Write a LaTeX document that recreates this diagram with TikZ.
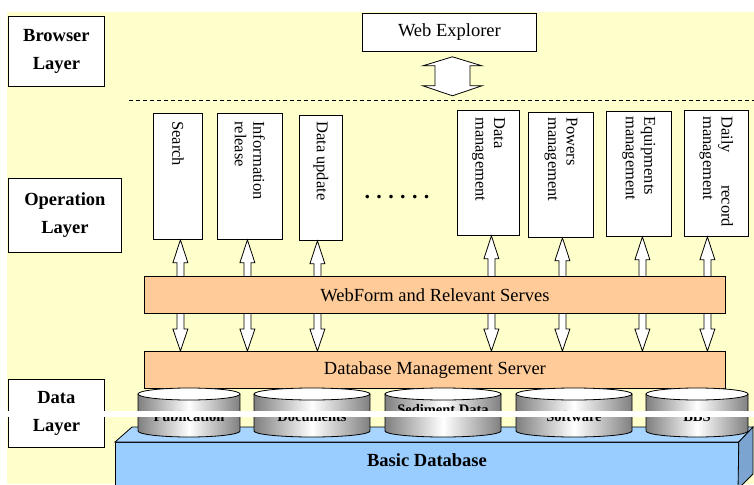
\documentclass[tikz,border=0pt]{standalone}
\usepackage{fontspec}
\setmainfont{Liberation Serif}
\usepackage{calc}
\usetikzlibrary{calc}
\definecolor{bgyellow}{HTML}{FFFFCC}
\definecolor{peach}{HTML}{FFCC99}
\definecolor{dbfront}{HTML}{99CCFF}
\definecolor{dbtop}{HTML}{A8D5FF}
\definecolor{dbside}{HTML}{7BA5D0}

% a database cylinder: left x, right x, label, label baseline
\newcommand{\dbcyl}[4]{%
  \pgfmathsetmacro{\cylrx}{(#2-#1)/2}%
  \pgfmathsetmacro{\cylcx}{(#2+#1)/2}%
  \shade[left color=gray, right color=gray, middle color=white]
    (#1,394) -- (#1,431) arc[start angle=180, end angle=0, x radius=\cylrx, y radius=6]
    -- (#2,394) arc[start angle=0, end angle=-180, x radius=\cylrx, y radius=6] -- cycle;
  \draw[outline] (#1,394) -- (#1,431)
    arc[start angle=180, end angle=0, x radius=\cylrx, y radius=6] -- (#2,394);
  \draw[outline, fill=white] (\cylcx,394) ellipse[x radius=\cylrx, y radius=6];
  \node[cyllabel, anchor=base] at (\cylcx,#4) {#3};
}

% a white block arrow with heads at both ends, from one node down to another
\newcommand{\linkarrow}[3]{%
  \draw[blk] let \p1=([xshift=#3pt]#1.south), \p2=([xshift=#3pt]#1.south |- #2.north) in
    (\x1,\y1) -- (\x1+7.5pt,\y1-23pt) -- (\x1+3.5pt,\y1-23pt) -- (\x1+3.5pt,\y2+22pt)
    -- (\x1+7.5pt,\y2+22pt) -- (\x1,\y2) -- (\x1-7.5pt,\y2+22pt) -- (\x1-3.5pt,\y2+22pt)
    -- (\x1-3.5pt,\y1-23pt) -- (\x1-7.5pt,\y1-23pt) -- cycle;
}

\begin{document}
\begin{tikzpicture}[x=1pt, y=-1pt,
  outline/.style={draw=black, line width=0.8pt},
  layerbox/.style={outline, fill=white, inner sep=0pt, anchor=north west, align=center,
    font=\bfseries\fontsize{18.5}{28}\selectfont},
  opbox/.style={outline, fill=white, inner sep=0pt, anchor=north west},
  optext/.style={rotate=-90, anchor=west, inner sep=0pt, align=left,
    font=\fontsize{16.5}{18.5}\selectfont},
  serverbox/.style={outline, fill=peach, inner sep=0pt, anchor=north west,
    minimum width=581pt, minimum height=37pt, font=\fontsize{18.5}{22}\selectfont},
  blk/.style={draw=black, line width=0.8pt, fill=white, line join=miter},
  cyllabel/.style={inner sep=0pt, font=\bfseries\fontsize{14.5}{16}\selectfont},
]
\useasboundingbox (0,0) rectangle (754,484);
\fill[white] (0,0) rectangle (754,484);
\fill[bgyellow] (7,12) rectangle (754,484);

% layer captions
\node[layerbox, minimum width=96pt, minimum height=70pt] (browser) at (8,16) {Browser\\Layer};
\node[layerbox, minimum width=113pt, minimum height=74pt] (operation) at (8,178) {Operation\\Layer};
\node[layerbox, minimum width=96pt, minimum height=68pt] (datalayer) at (8,379) {Data\\Layer};

% browser
\node[opbox, minimum width=174pt, minimum height=38pt, font=\fontsize{18.5}{22}\selectfont]
  (web) at (362,13) {Web Explorer};
\draw[blk] let \p1=([xshift=3pt]web.south) in
  (\x1,\y1-5pt) -- (\x1+29.5pt,\y1-14pt) -- (\x1+17.5pt,\y1-14pt) -- (\x1+17.5pt,\y1-34pt)
  -- (\x1+29.5pt,\y1-34pt) -- (\x1,\y1-44pt) -- (\x1-29.5pt,\y1-34pt) -- (\x1-17.5pt,\y1-34pt)
  -- (\x1-17.5pt,\y1-14pt) -- (\x1-29.5pt,\y1-14pt) -- cycle;
\draw[line width=0.8pt, dash pattern=on 4pt off 3pt] (129,100) -- (754,100);

% operation modules
\node[opbox, minimum width=49pt, minimum height=126pt] (search) at (153,113) {};
\node[opbox, minimum width=65pt, minimum height=126pt] (info) at (217,113) {};
\node[opbox, minimum width=43pt, minimum height=125pt] (dupd) at (299,115) {};
\node[opbox, minimum width=62pt, minimum height=125pt] (dmgmt) at (457,110) {};
\node[opbox, minimum width=65pt, minimum height=125pt] (pmgmt) at (528,112) {};
\node[opbox, minimum width=65pt, minimum height=125pt] (emgmt) at (606,111) {};
\node[opbox, minimum width=64pt, minimum height=126pt] (drec) at (684,110) {};

\node[optext] at ($(search.north)+(0,8)$) {Search};
\node[optext] at ($(info.north)+(0,8)$) {Information\\release};
\node[optext] at ($(dupd.north)+(0,6)$) {Data update};
\node[optext] at ($(dmgmt.north)+(0,7)$) {Data\\management};
\node[optext] at ($(pmgmt.north)+(0,5)$) {Powers\\management};
\node[optext] at ($(emgmt.north)+(0,5)$) {Equipments\\management};
\node[optext] at ($(drec.north)+(0,6)$) {\makebox[111pt][s]{Daily record}\\management};

\node[inner sep=0pt, anchor=base, font=\bfseries\fontsize{22}{24}\selectfont] (dots) at (397,198)
  {.\kern6.4pt.\kern6.4pt.\kern6.4pt.\kern6.4pt.\kern6.4pt.};

% servers
\node[serverbox] (dbms) at (144,351) {Database Management Server};
\linkarrow{search}{dbms}{2.5}
\linkarrow{info}{dbms}{-2.5}
\linkarrow{dupd}{dbms}{-3.5}
\linkarrow{dmgmt}{dbms}{3}
\linkarrow{pmgmt}{dbms}{1.5}
\linkarrow{emgmt}{dbms}{3.5}
\linkarrow{drec}{dbms}{-9}
\node[serverbox] (webform) at (144,276) {WebForm and Relevant Serves};

% basic database slab
\begin{scope}
\clip (0,0) rectangle (754,484);
\node[outline, fill=dbfront, inner sep=0pt, anchor=north west,
  minimum width=623pt, minimum height=50pt] (basic) at (115,442) {};
\draw[outline, fill=dbtop, line join=miter] (basic.north west) -- ++(17,-15) -- (753,427)
  -- (basic.north east) -- cycle;
\draw[outline, fill=dbside, line join=miter] (basic.north east) -- (753,427) -- (753,474)
  -- ++(-15,15) -- cycle;
\end{scope}
\node[cyllabel, anchor=base, font=\bfseries\fontsize{18.5}{20}\selectfont] (basiclabel)
  at (427,466) {Basic Database};

% data stores
\dbcyl{138}{240}{Publication}{421.5}
\dbcyl{254}{370}{Documents}{421.5}
\dbcyl{385}{501}{Sediment Data}{414.5}
\dbcyl{516}{632}{Software}{421.5}
\dbcyl{646}{748}{BBS}{421.5}

% white band across the data layer
\fill[white] (7,411) rectangle (754,417);
\end{tikzpicture}
\end{document}
